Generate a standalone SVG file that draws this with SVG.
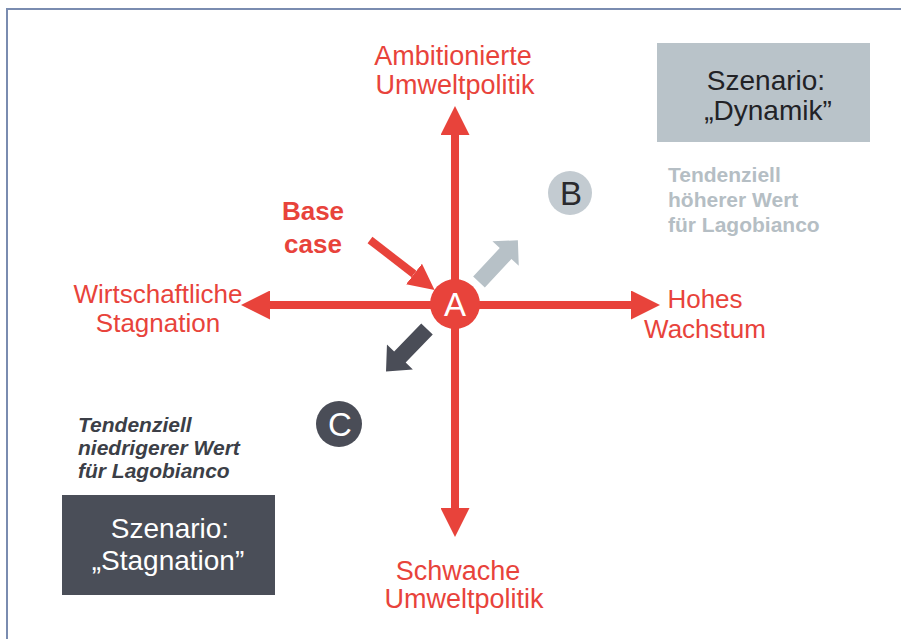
<svg xmlns="http://www.w3.org/2000/svg" width="901" height="639" viewBox="0 0 901 639">
<style>
text{font-family:"Liberation Sans",Arial,sans-serif}
.red{fill:#e8433b;font-size:26px}
.redv{fill:#e8433b;font-size:27px}
.box{font-size:28px}
.axis{stroke:#e8433b;stroke-width:8;fill:none}
</style>
<defs>
<marker id="ah" markerUnits="userSpaceOnUse" markerWidth="29" markerHeight="29" refX="0" refY="14.5" orient="auto" viewBox="0 0 29 29">
<path d="M0,0 L29,14.5 L0,29 z" fill="#e8433b"/>
</marker>
<marker id="ahs" markerUnits="userSpaceOnUse" markerWidth="26" markerHeight="26" refX="0" refY="13" orient="auto" viewBox="0 0 26 26">
<path d="M0,0 L26,13 L0,26 z" fill="#e8433b"/>
</marker>
</defs>
<rect width="901" height="639" fill="#ffffff"/>
<g id="frame">
<path d="M7,639 L7,9 L901,9" fill="none" stroke="#7a8cb0" stroke-width="2"/>
</g>
<g id="connectors">
<line class="axis" x1="455" y1="304" x2="455" y2="135" marker-end="url(#ah)"/>
<line class="axis" x1="455" y1="304" x2="455" y2="508" marker-end="url(#ah)"/>
<line class="axis" x1="455" y1="305" x2="270" y2="305" marker-end="url(#ah)"/>
<line class="axis" x1="455" y1="305" x2="631" y2="305" marker-end="url(#ah)"/>
<line class="axis" x1="370" y1="240" x2="414" y2="274" marker-end="url(#ahs)"/>
<polygon points="0,-8 39,-8 39,-18 57,0 39,18 39,8 0,8" fill="#b7c1c7" transform="translate(479,282) rotate(-47)"/>
<polygon points="0,-8 39,-8 39,-18 59,0 39,18 39,8 0,8" fill="#4a4d57" transform="translate(427,329) rotate(134)"/>
</g>
<g id="nodeA">
<circle cx="455" cy="304" r="25" fill="#e8433b"/>
<text x="455" y="316" font-size="33" fill="#ffffff" text-anchor="middle">A</text>
</g>
<g id="nodeB">
<circle cx="570" cy="193" r="22" fill="#c3cbd1"/>
<text x="571" y="205" font-size="33" fill="#2a2a2e" text-anchor="middle">B</text>
</g>
<g id="nodeC">
<circle cx="339" cy="424" r="23" fill="#4a4d57"/>
<text x="340" y="436" font-size="33" fill="#ffffff" text-anchor="middle">C</text>
</g>
<g id="label-top">
<text class="redv" x="453" y="65" text-anchor="middle">Ambitionierte</text>
<text class="redv" x="455" y="94" text-anchor="middle">Umweltpolitik</text>
</g>
<g id="label-bottom">
<text class="redv" x="458" y="580" text-anchor="middle">Schwache</text>
<text class="redv" x="464" y="608" text-anchor="middle">Umweltpolitik</text>
</g>
<g id="label-left">
<text class="red" x="158" y="303" text-anchor="middle">Wirtschaftliche</text>
<text class="red" x="158" y="332" text-anchor="middle">Stagnation</text>
</g>
<g id="label-right">
<text class="red" x="705" y="308" text-anchor="middle">Hohes</text>
<text class="red" x="705" y="338" text-anchor="middle">Wachstum</text>
</g>
<g id="label-base">
<text class="red" x="313" y="220" text-anchor="middle" font-weight="bold">Base</text>
<text class="red" x="313" y="253" text-anchor="middle" font-weight="bold">case</text>
</g>
<g id="scenario-dynamik">
<rect x="657" y="43" width="213" height="99" fill="#b9c3c9"/>
<text class="box" x="766" y="90" fill="#222226" text-anchor="middle">Szenario:</text>
<text class="box" x="768" y="120" fill="#222226" text-anchor="middle">„Dynamik”</text>
</g>
<g id="note-hoeher">
<text x="668" y="182" font-size="21" font-weight="bold" fill="#b5bec4">Tendenziell</text>
<text x="668" y="207" font-size="21" font-weight="bold" fill="#b5bec4">höherer Wert</text>
<text x="668" y="232" font-size="21" font-weight="bold" fill="#b5bec4">für Lagobianco</text>
</g>
<g id="scenario-stagnation">
<rect x="62" y="495" width="213" height="100" fill="#4a4e58"/>
<text class="box" x="170" y="538" fill="#ffffff" text-anchor="middle">Szenario:</text>
<text class="box" x="168" y="570" fill="#ffffff" text-anchor="middle">„Stagnation”</text>
</g>
<g id="note-niedriger">
<text x="78" y="432" font-size="21" font-weight="bold" font-style="italic" fill="#3c3f47">Tendenziell</text>
<text x="78" y="455" font-size="21" font-weight="bold" font-style="italic" fill="#3c3f47">niedrigerer Wert</text>
<text x="78" y="478" font-size="21" font-weight="bold" font-style="italic" fill="#3c3f47">für Lagobianco</text>
</g>
</svg>
